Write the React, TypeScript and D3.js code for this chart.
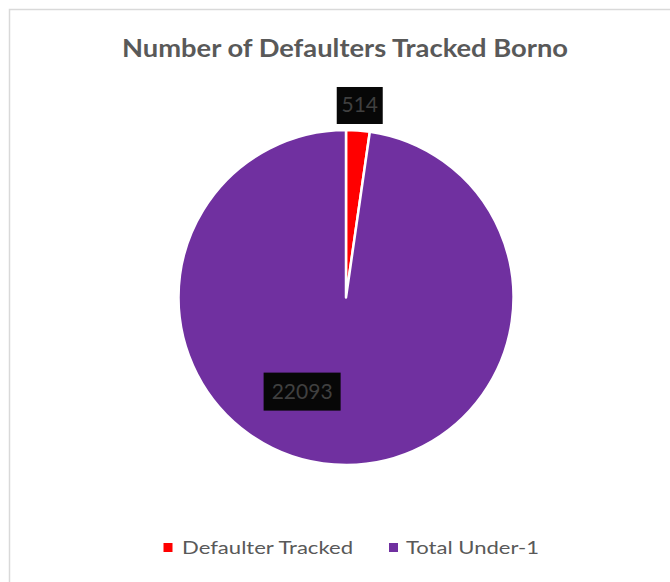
import React from "react";
import * as d3 from "d3";

const categories = ["Defaulter Tracked", "Total Under-1"];
const values = [514, 22093];
const colors = ["#FF0000", "#7030A0"];
const title = "Number of Defaulters Tracked Borno";

const W = 670;
const H = 582;
const FONT = "Lato, 'Open Sans', sans-serif";

export default function App() {
  const cx = 346;
  const cy = 297.5;
  const r = 167.5;
  const pie = d3.pie<number>().sort(null).value((d) => d)(values);
  const arc = d3.arc<d3.PieArcDatum<number>>().innerRadius(0).outerRadius(r);

  // label placements (angle in degrees from top, radius factor)
  const labelPlacement = [
    { angle: null as number | null, rad: r + 25, w: 46, h: 37 },
    { angle: 205, rad: r * 0.62, w: 77, h: 38 },
  ];

  return (
    <svg
      width={W}
      height={H}
      style={{ position: "absolute", left: 0, top: 0, background: "#fff" }}
    >
      <rect x={0} y={0} width={W} height={H} fill="#fff" />
      <rect
        x={9.5}
        y={9.5}
        width={W + 20}
        height={H + 20}
        fill="#fff"
        stroke="#D9D9D9"
        strokeWidth={1.5}
      />
      <text
        x={345}
        y={57}
        textAnchor="middle"
        fontFamily={FONT}
        fontWeight="bold"
        fontSize={25}
        fill="#595959"
        textLength={446}
        lengthAdjust="spacingAndGlyphs"
      >
        {title}
      </text>
      <g transform={`translate(${cx},${cy})`}>
        {pie.map((p, i) => (
          <path
            key={i}
            d={arc(p) || ""}
            fill={colors[i]}
            stroke="#fff"
            strokeWidth={2.5}
            strokeLinejoin="round"
          />
        ))}
        {pie.map((p, i) => {
          const lp = labelPlacement[i];
          const ang =
            lp.angle === null ? (p.startAngle + p.endAngle) / 2 : (lp.angle * Math.PI) / 180;
          const x = lp.rad * Math.sin(ang);
          const y = -lp.rad * Math.cos(ang);
          return (
            <g key={"l" + i} transform={`translate(${x},${y})`}>
              <rect x={-lp.w / 2} y={-lp.h / 2} width={lp.w} height={lp.h} fill="#070707" />
              <text
                x={0}
                y={7}
                textAnchor="middle"
                fontFamily={FONT}
                fontSize={21}
                fill="#404040"
              >
                {values[i]}
              </text>
            </g>
          );
        })}
      </g>
      <g>
        {categories.map((c, i) => {
          const xs = [163.5, 389];
          const tx = [182, 406];
          const tw = [171, 133];
          return (
            <g key={c}>
              <rect x={xs[i]} y={543} width={9} height={9} fill={colors[i]} />
              <text
                x={tx[i]}
                y={554}
                fontFamily={FONT}
                fontSize={18}
                fill="#595959"
                textLength={tw[i]}
                lengthAdjust="spacingAndGlyphs"
              >
                {c}
              </text>
            </g>
          );
        })}
      </g>
    </svg>
  );
}
